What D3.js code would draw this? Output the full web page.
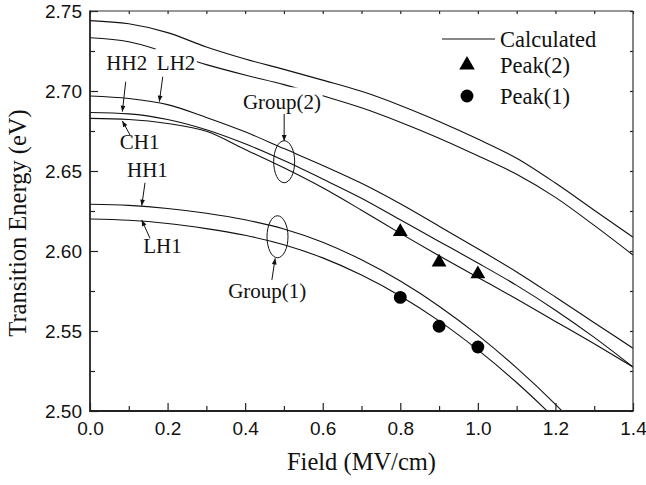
<!DOCTYPE html>
<html>
<head>
<meta charset="utf-8">
<script src="https://cdn.jsdelivr.net/npm/d3@7"></script>
<style>
  body { margin: 0; background: #ffffff; }
</style>
</head>
<body>
<svg id="chart" width="646" height="485"></svg>
<script>
// field values (MV/cm) the calculated curves are sampled at
var field = [0, 0.1, 0.2, 0.3, 0.4, 0.5, 0.6, 0.7, 0.8, 0.9, 1.0, 1.1, 1.2, 1.3, 1.4];

// calculated transition energies (eV)
var upper1 = [2.7440, 2.7420, 2.7365, 2.7275, 2.7200, 2.7135, 2.7068, 2.6998, 2.6910, 2.6810, 2.6700, 2.6580, 2.6425, 2.6255, 2.6086];
var upper2 = [2.7333, 2.7308, 2.7240, 2.7165, 2.7100, 2.7040, 2.6970, 2.6895, 2.6805, 2.6705, 2.6595, 2.6480, 2.6335, 2.6160, 2.5975];
var lh2 = [2.6969, 2.6953, 2.6915, 2.6835, 2.6745, 2.6640, 2.6535, 2.6423, 2.6295, 2.6155, 2.6014, 2.5869, 2.5712, 2.5552, 2.5392];
var hh2 = [2.6866, 2.6857, 2.6822, 2.6758, 2.6670, 2.6565, 2.6450, 2.6330, 2.6195, 2.6060, 2.5925, 2.5785, 2.5630, 2.5460, 2.5275];
var ch1 = [2.6829, 2.6822, 2.6797, 2.6748, 2.6635, 2.6520, 2.6395, 2.6255, 2.6110, 2.5970, 2.5835, 2.5700, 2.5560, 2.5420, 2.5275];
var hh1 = [2.6292, 2.6285, 2.6266, 2.6236, 2.6195, 2.6138, 2.6055, 2.5945, 2.5812, 2.5655, 2.5474, 2.5269, 2.5042, 2.4790];
var lh1 = [2.6200, 2.6192, 2.6172, 2.6140, 2.6098, 2.6039, 2.5957, 2.5850, 2.5719, 2.5563, 2.5382, 2.5178, 2.4949, 2.4696];

// measured peaks
var peakField = [0.8, 0.9, 1.0];
var peak2 = [2.612, 2.593, 2.5856];
var peak1 = [2.571, 2.553, 2.540];

var xTicks = [0, 0.2, 0.4, 0.6, 0.8, 1.0, 1.2, 1.4];
var yTicks = [2.50, 2.55, 2.60, 2.65, 2.70, 2.75];
var legendLabels = ['Calculated', 'Peak(2)', 'Peak(1)'];

var svg = d3.select('#chart');
var plotLeft = 90, plotRight = 633, plotTop = 11, plotBottom = 411;

var x = d3.scaleLinear().domain([0, 1.4]).range([plotLeft, plotRight]);
var y = d3.scaleLinear().domain([2.50, 2.75]).range([plotBottom, plotTop]);

svg.append('rect')
  .attr('width', 646)
  .attr('height', 485)
  .style('fill', '#ffffff');

svg.append('clipPath')
  .attr('id', 'plot-clip')
  .append('rect')
  .attr('x', plotLeft)
  .attr('y', plotTop)
  .attr('width', plotRight - plotLeft)
  .attr('height', plotBottom - plotTop);

var line = d3.line()
  .x(function(d) { return x(d[0]); })
  .y(function(d) { return y(d[1]); })
  .curve(d3.curveMonotoneX);

var curves = [upper1, upper2, lh2, hh2, ch1, hh1, lh1];

svg.append('g')
  .attr('clip-path', 'url(#plot-clip)')
  .selectAll('.curve')
  .data(curves)
  .enter()
  .append('path')
  .attr('class', 'curve')
  .attr('d', function(d) {
    return line(d.map(function(e, i) { return [field[i], e]; }));
  })
  .style('fill', 'none')
  .style('stroke', '#111111')
  .style('stroke-width', 1.1);

// ellipses marking the groups
var groups = [
  { v: 0.5006, e: 2.6558 },
  { v: 0.4834, e: 2.6089 }
];
svg.selectAll('.group-ellipse')
  .data(groups)
  .enter()
  .append('ellipse')
  .attr('class', 'group-ellipse')
  .attr('cx', function(d) { return x(d.v); })
  .attr('cy', function(d) { return y(d.e); })
  .attr('rx', 10.5)
  .attr('ry', 21)
  .style('fill', 'none')
  .style('stroke', '#111111')
  .style('stroke-width', 1);

// annotations: text with a white box, and an arrow to the curve
svg.append('defs')
  .append('marker')
  .attr('id', 'arrow')
  .attr('viewBox', '0 0 10 10')
  .attr('refX', 10)
  .attr('refY', 5)
  .attr('markerWidth', 8)
  .attr('markerHeight', 6)
  .attr('markerUnits', 'userSpaceOnUse')
  .attr('orient', 'auto')
  .append('path')
  .attr('d', 'M0,1L10,5L0,9Z')
  .style('fill', '#111111');

var notes = [
  { text: 'HH2', v: 0.0947, e: 2.7131, from: [0.0921, 2.7058], to: [0.0834, 2.6871] },
  { text: 'LH2', v: 0.2220, e: 2.7131, from: [0.1876, 2.7089], to: [0.1788, 2.6933] },
  { text: 'CH1', v: 0.1280, e: 2.6638, from: [0.1032, 2.6725], to: [0.0834, 2.6813] },
  { text: 'HH1', v: 0.1480, e: 2.6464, from: [0.1419, 2.6427], to: [0.1334, 2.6283] },
  { text: 'LH1', v: 0.1870, e: 2.5990, from: [0.1548, 2.6079], to: [0.1334, 2.6194] },
  { text: 'Group(2)', v: 0.4950, e: 2.6888, from: [0.5006, 2.6856], to: [0.5006, 2.6688] },
  { text: 'Group(1)', v: 0.4570, e: 2.5706, from: [0.4689, 2.5819], to: [0.4774, 2.5954] }
];

var note = svg.selectAll('.note')
  .data(notes)
  .enter()
  .append('g')
  .attr('class', 'note');

note.append('rect')
  .attr('class', 'note-box')
  .style('fill', '#ffffff');

note.append('text')
  .attr('x', function(d) { return x(d.v); })
  .attr('y', function(d) { return y(d.e); })
  .style('text-anchor', 'middle')
  .style('font-family', '"Liberation Serif", "Times New Roman", serif')
  .style('font-size', '21px')
  .style('fill', '#111111')
  .text(function(d) { return d.text; });

note.each(function() {
  var g = d3.select(this);
  var box = g.select('text').node().getBBox();
  g.select('rect')
    .attr('x', box.x - 1.5)
    .attr('y', box.y - 2.5)
    .attr('width', box.width + 3)
    .attr('height', box.height + 1.5);
});

note.append('line')
  .attr('x1', function(d) { return x(d.from[0]); })
  .attr('y1', function(d) { return y(d.from[1]); })
  .attr('x2', function(d) { return x(d.to[0]); })
  .attr('y2', function(d) { return y(d.to[1]); })
  .attr('marker-end', 'url(#arrow)')
  .style('stroke', '#111111')
  .style('stroke-width', 1);

// measured points
var tri = d3.symbol().type(d3.symbolTriangle).size(95);
var dot = d3.symbol().type(d3.symbolCircle).size(130);

svg.selectAll('.peak2')
  .data(peakField)
  .enter()
  .append('path')
  .attr('class', 'peak2')
  .attr('d', tri)
  .attr('transform', function(d, i) {
    return 'translate(' + x(d) + ',' + y(peak2[i]) + ')';
  })
  .style('fill', '#000000');

svg.selectAll('.peak1')
  .data(peakField)
  .enter()
  .append('path')
  .attr('class', 'peak1')
  .attr('d', dot)
  .attr('transform', function(d, i) {
    return 'translate(' + x(d) + ',' + y(peak1[i]) + ')';
  })
  .style('fill', '#000000');

// axes, ticks pointing inward
var tickFont = '"Liberation Sans", Arial, sans-serif';

var xAxis = svg.append('g')
  .attr('transform', 'translate(0,' + plotBottom + ')')
  .call(d3.axisBottom(x).tickValues(xTicks).tickSizeInner(-8).tickSizeOuter(0).tickPadding(10.5)
    .tickFormat(d3.format('.1f')));

svg.append('g')
  .attr('transform', 'translate(0,' + plotBottom + ')')
  .call(d3.axisBottom(x).tickValues(d3.range(0.1, 1.4, 0.2)).tickSize(-5).tickFormat(''));

var yAxis = svg.append('g')
  .attr('transform', 'translate(' + plotLeft + ',0)')
  .call(d3.axisLeft(y).tickValues(yTicks).tickSizeInner(-8).tickSizeOuter(0).tickPadding(8)
    .tickFormat(d3.format('.2f')));

svg.append('g')
  .attr('transform', 'translate(' + plotLeft + ',0)')
  .call(d3.axisLeft(y).tickValues(d3.range(2.525, 2.75, 0.05)).tickSize(-5).tickFormat(''));

svg.append('g')
  .attr('transform', 'translate(0,' + plotTop + ')')
  .call(d3.axisTop(x).tickValues(d3.range(0, 1.45, 0.1)).tickSize(-3).tickFormat(''));

svg.append('g')
  .attr('transform', 'translate(' + plotRight + ',0)')
  .call(d3.axisRight(y).tickValues(d3.range(2.50, 2.76, 0.025)).tickSize(-3).tickFormat(''));

svg.selectAll('.domain').remove();
svg.selectAll('.tick line')
  .style('stroke', '#222222')
  .style('stroke-width', 1.2);

[xAxis, yAxis].forEach(function(a) {
  a.selectAll('text')
    .style('font-family', tickFont)
    .style('font-size', '19px')
    .style('fill', '#111111');
});

// frame
svg.append('line').attr('x1', plotLeft).attr('x2', plotRight).attr('y1', plotTop).attr('y2', plotTop)
  .style('stroke', '#333333').style('stroke-width', 1.2);
svg.append('line').attr('x1', plotRight).attr('x2', plotRight).attr('y1', plotTop).attr('y2', plotBottom)
  .style('stroke', '#333333').style('stroke-width', 1.2);
svg.append('line').attr('x1', plotLeft).attr('x2', plotRight + 0.6).attr('y1', plotBottom).attr('y2', plotBottom)
  .style('stroke', '#222222').style('stroke-width', 1.8);
svg.append('line').attr('x1', plotLeft).attr('x2', plotLeft).attr('y1', plotTop - 0.6).attr('y2', plotBottom + 0.9)
  .style('stroke', '#222222').style('stroke-width', 1.8);

// axis titles
svg.append('text')
  .attr('x', (plotLeft + plotRight) / 2)
  .attr('y', 470)
  .style('text-anchor', 'middle')
  .style('font-family', '"Liberation Serif", "Times New Roman", serif')
  .style('font-size', '24.5px')
  .style('fill', '#111111')
  .text('Field (MV/cm)');

svg.append('text')
  .attr('transform', 'translate(26,' + ((plotTop + plotBottom) / 2 + 12) + ') rotate(-90)')
  .style('text-anchor', 'middle')
  .style('font-family', '"Liberation Serif", "Times New Roman", serif')
  .style('font-size', '24.5px')
  .style('fill', '#111111')
  .text('Transition Energy (eV)');

// legend
var legend = svg.append('g').attr('class', 'legend');
var legendY = [39, 65, 96];

legend.append('line')
  .attr('x1', 442)
  .attr('x2', 495)
  .attr('y1', legendY[0])
  .attr('y2', legendY[0])
  .style('stroke', '#111111')
  .style('stroke-width', 1.1);

legend.append('path')
  .attr('d', d3.symbol().type(d3.symbolTriangle).size(105))
  .attr('transform', 'translate(467,' + legendY[1] + ')')
  .style('fill', '#000000');

legend.append('path')
  .attr('d', d3.symbol().type(d3.symbolCircle).size(130))
  .attr('transform', 'translate(467,' + legendY[2] + ')')
  .style('fill', '#000000');

legend.selectAll('.legend-text')
  .data(legendLabels)
  .enter()
  .append('text')
  .attr('class', 'legend-text')
  .attr('x', 500)
  .attr('y', function(d, i) { return legendY[i] + 7.5; })
  .style('font-family', '"Liberation Serif", "Times New Roman", serif')
  .style('font-size', '22.5px')
  .style('fill', '#111111')
  .text(function(d) { return d; });
</script>
</body>
</html>
